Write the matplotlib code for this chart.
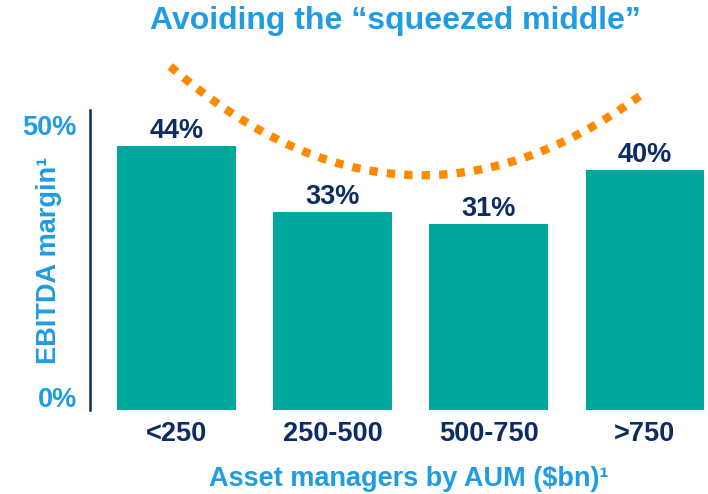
import matplotlib.pyplot as plt
from matplotlib.path import Path
from matplotlib.patches import PathPatch

categories = ["<250", "250-500", "500-750", ">750"]
margins = [44, 33, 31, 40]
value_labels = ["44%", "33%", "31%", "40%"]

teal = "#00A79D"
navy = "#0C2C63"
light_blue = "#1F9CE4"
orange = "#FF8A00"

plt.rcParams["font.family"] = ["Liberation Sans", "DejaVu Sans"]
plt.rcParams["font.weight"] = "bold"

fig = plt.figure(figsize=(7.08, 4.94), dpi=100)
ax = fig.add_axes([0.127, 0.170, 0.872, 0.607])

x = list(range(len(categories)))
ax.bar(x, margins, width=0.76, color=teal)
for xi, m, lab in zip(x, margins, value_labels):
    ax.text(xi, m + 1.3, lab, ha="center", va="baseline", color=navy,
            fontsize=19.5, fontweight="bold")

ax.set_xlim(-0.555, 3.4)
ax.set_ylim(0, 50)
for s in ["top", "right", "bottom"]:
    ax.spines[s].set_visible(False)
ax.spines["left"].set_color(navy)
ax.spines["left"].set_linewidth(1.8)
ax.set_yticks([])
ax.set_xticks(x)
ax.set_xticklabels(categories, color=navy, fontsize=19.5, fontweight="bold")
ax.tick_params(axis="x", length=0, pad=8)

# y tick labels sit just inside the axis ends
ax.text(-0.64, 47, "50%", ha="right", va="center", color=light_blue,
        fontsize=19.5, fontweight="bold")
ax.text(-0.64, 1.7, "0%", ha="right", va="center", color=light_blue,
        fontsize=19.5, fontweight="bold")
fig.text(0.069, 0.472, "EBITDA margin¹", rotation=90, ha="center", va="center",
         color=light_blue, fontsize=19.5, fontweight="bold")
fig.text(0.577, 0.030, "Asset managers by AUM ($bn)¹", ha="center", va="center",
         color=light_blue, fontsize=19.5, fontweight="bold")
fig.text(0.559, 0.957, "Avoiding the \u201csqueezed middle\u201d", ha="center",
         va="center", color=light_blue, fontsize=23, fontweight="bold")

# decorative dotted "squeezed middle" curve
verts = [(-0.04, 57.3), (1.45, 23.5), (2.98, 52.6)]
curve = PathPatch(Path(verts, [Path.MOVETO, Path.CURVE3, Path.CURVE3]),
                  fill=False, edgecolor=orange, linewidth=6,
                  linestyle=(0, (1, 1.1)), capstyle="butt", clip_on=False)
ax.add_patch(curve)

fig.savefig("out.png", dpi=100)
